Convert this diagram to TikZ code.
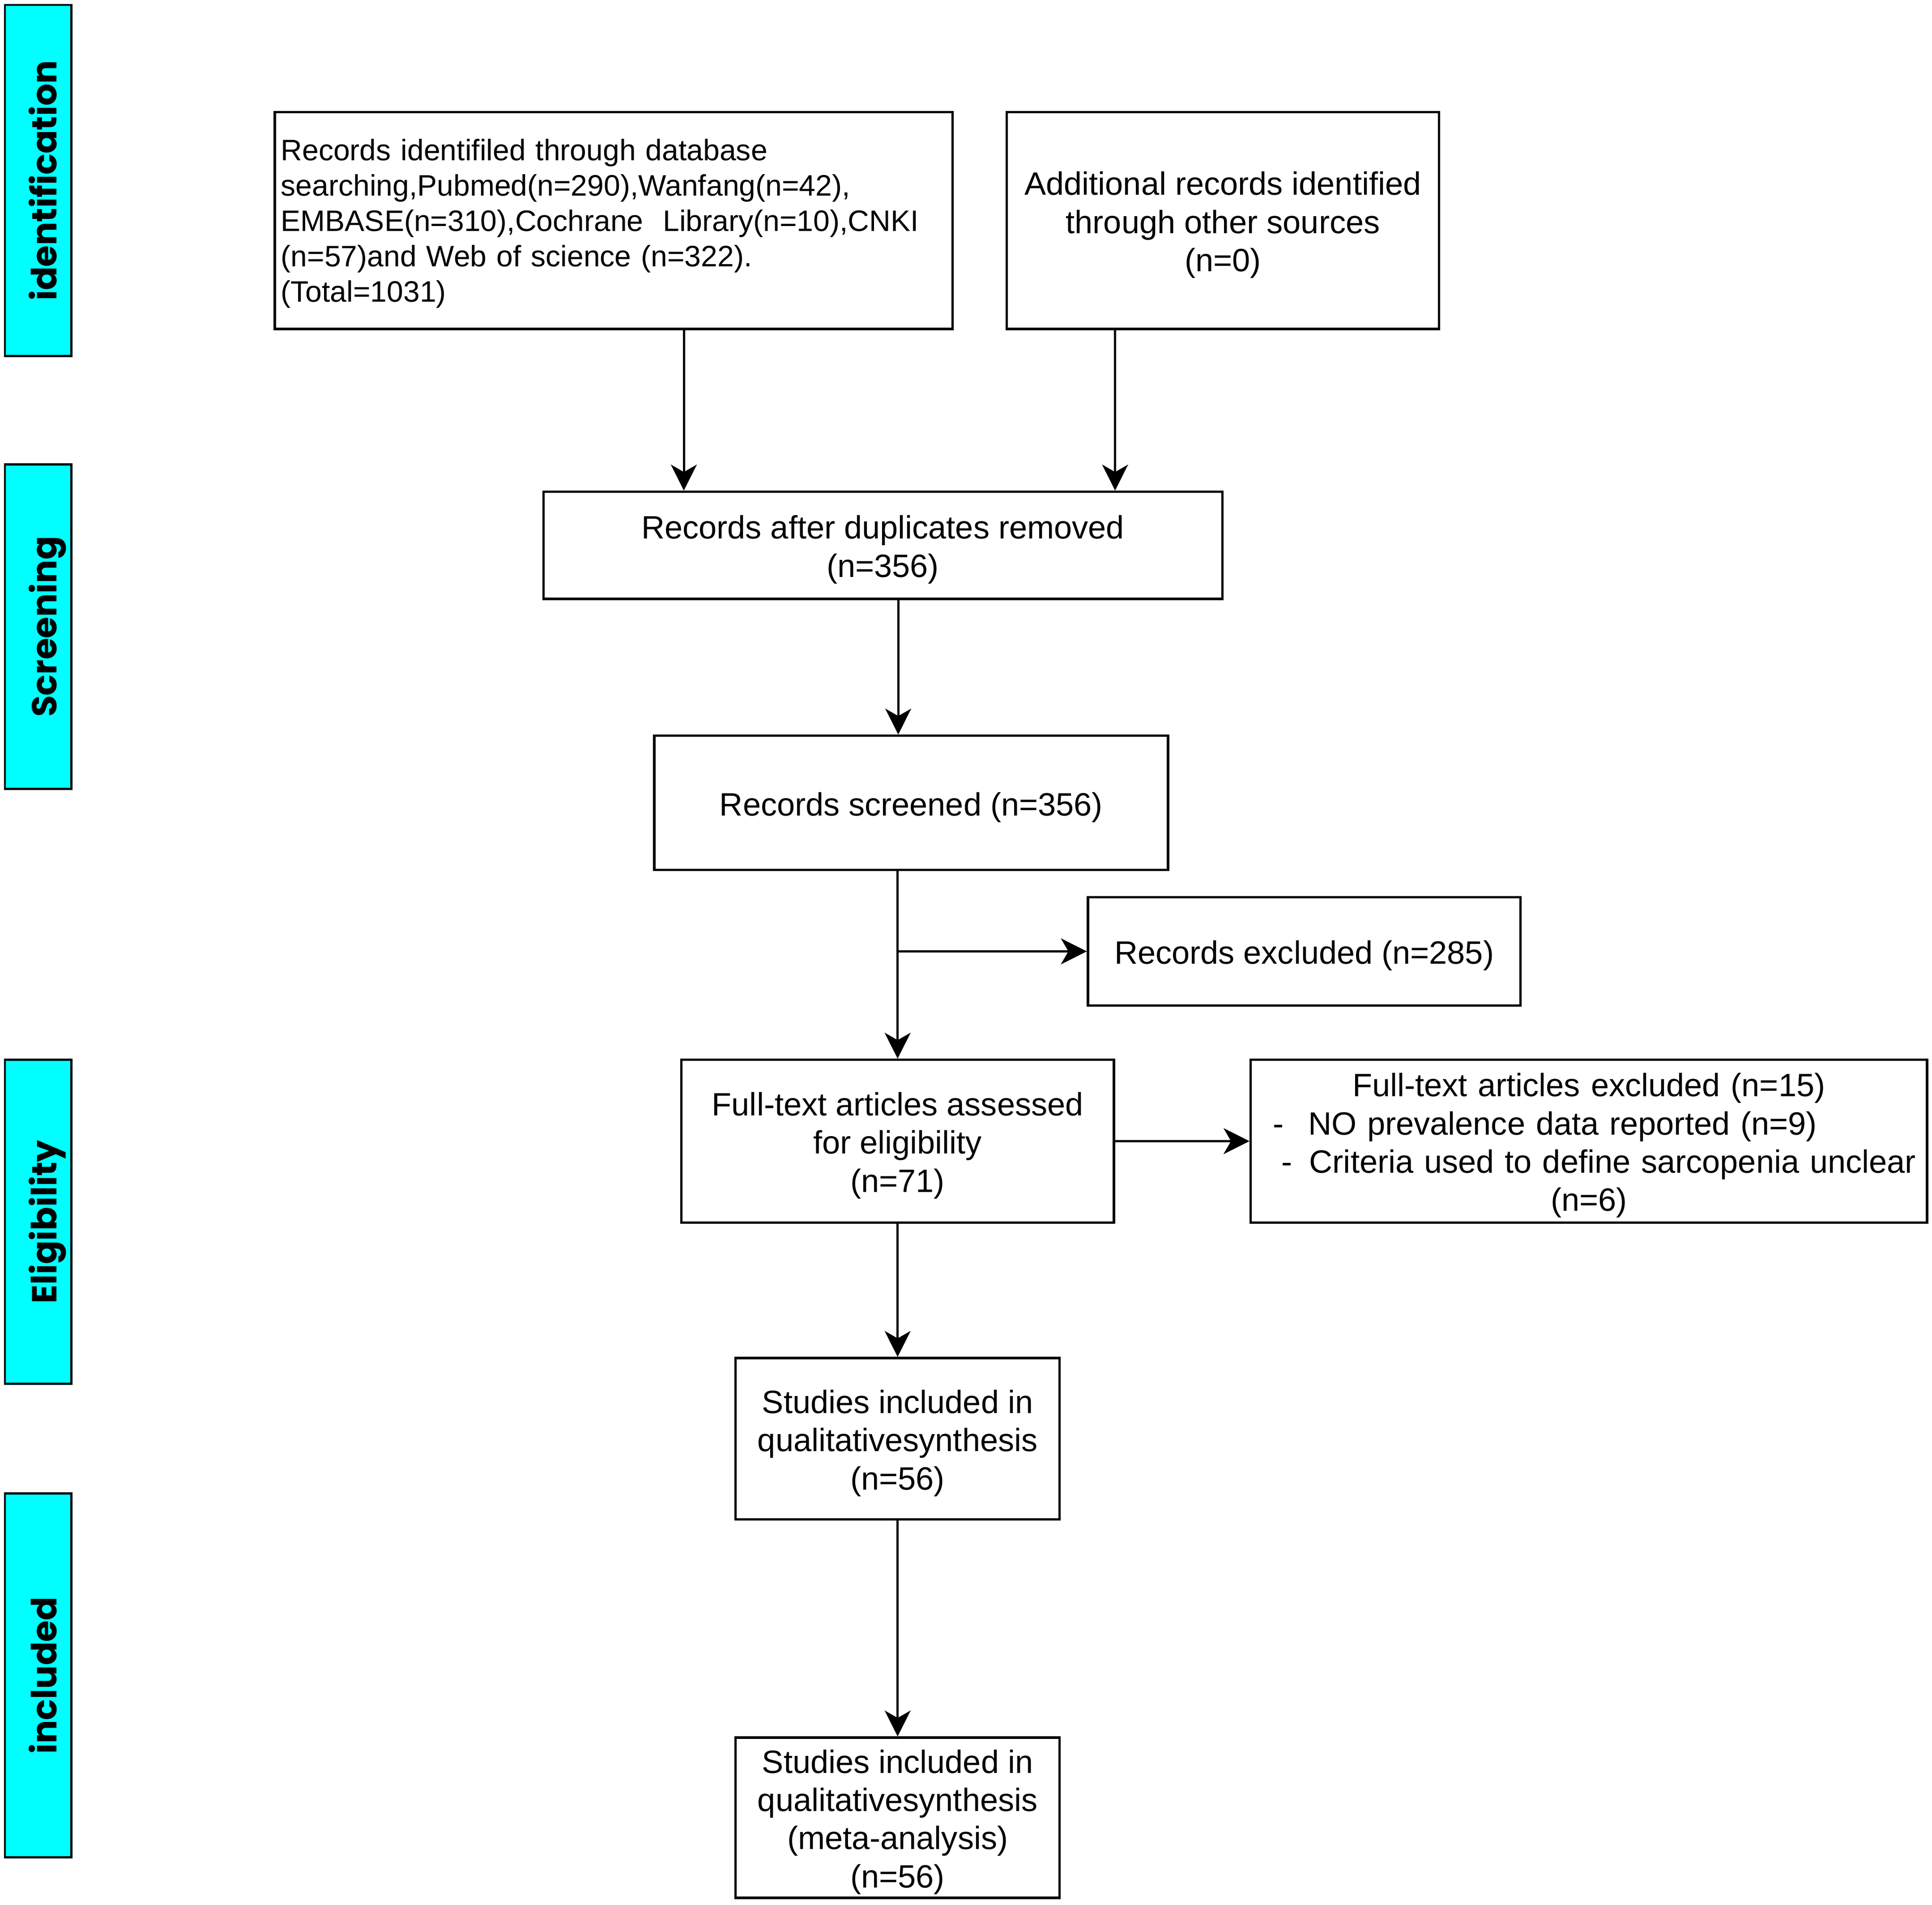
\documentclass[tikz,border=0pt]{standalone}
\usepackage{fontspec}
\setmainfont{Liberation Sans}
\newfontfamily\barfont{Poppins}
\usetikzlibrary{arrows.meta,calc}
\definecolor{barcyan}{HTML}{00FFFF}
\newcommand\tup{\rule{0pt}{13pt}}
\newcommand\tupa{\rule{0pt}{11.2pt}}
\begin{document}
\begin{tikzpicture}[x=0.5pt,y=-0.5pt,
  box/.style={draw=black,line width=0.95pt,fill=white,inner sep=0pt,align=center,
    font=\fontsize{13.1pt}{15.5pt}\selectfont},
  bar/.style={draw=black,line width=0.9pt,fill=barcyan,inner sep=0pt,minimum width=27pt},
  bartext/.style={rotate=90,inner sep=0pt,text height=10.5pt,text depth=0pt,
    font=\barfont\bfseries\fontsize{14.1pt}{16pt}\selectfont},
  arr/.style={-{Stealth[length=10.5pt,width=10.5pt,inset=3pt]},line width=0.9pt}]
\useasboundingbox[fill=white] (0,0) rectangle (1568,1545.5);

% phase bars
\node[bar,minimum height=142.5pt] (b1) at (31,146.5) {};
\node[bar,minimum height=131.5pt] (b2) at (31,508.5) {};
\node[bar,minimum height=131.5pt] (b3) at (31,991.5) {};
\node[bar,minimum height=147.5pt] (b4) at (31,1359.5) {};
\node[bartext] (t1) at ($(b1.center)+(4.5,0)$) {identification};
\node[bartext] (t2) at ($(b2.center)+(4.5,0)$) {Screening};
\node[bartext] (t3) at ($(b3.center)+(4.5,0)$) {Eligibility};
\node[bartext] (t4) at ($(b4.center)+(4.5,0)$) {included};

% boxes
\node[box,minimum width=275pt,minimum height=88pt,align=left,text width=270pt,
  inner xsep=2.5pt,font=\fontsize{12pt}{14.35pt}\selectfont] (A) at (498,179)
  {\tupa Records identifiled through database\\
   searching,Pubmed(n=290),Wanfang(n=42),\\
   EMBASE(n=310),Cochrane\ \ Library(n=10),CNKI\\
   (n=57)and Web of science (n=322).\\
   (Total=1031)};
\node[box,minimum width=175.5pt,minimum height=88pt] (B) at (992.5,179)
  {\tup Additional records identified\\through other sources\\(n=0)};
\node[box,minimum width=275.5pt,minimum height=43.5pt] (C) at (716.5,442.5)
  {\tup Records after duplicates removed\\(n=356)};
\node[box,minimum width=208.5pt,minimum height=54.5pt] (D) at (739.5,651.5)
  {\tup Records screened (n=356)};
\node[box,minimum width=175.5pt,minimum height=44pt] (E) at (1058.5,772)
  {\tup Records excluded (n=285)};
\node[box,minimum width=175.5pt,minimum height=66pt] (F) at (728.5,926)
  {\tup Full-text articles assessed\\for eligibility\\(n=71)};
\node[box,minimum width=274.5pt,minimum height=66pt,align=left,text width=274.5pt] (G) at (1289.5,926)
  {\makebox[\linewidth][c]{\tup Full-text articles excluded (n=15)}\\
   \hspace*{9pt}-\hspace{10pt}NO prevalence data reported (n=9)\\
   \hspace*{12.5pt}-\hspace{7pt}Criteria used to define sarcopenia unclear\\
   \makebox[\linewidth][c]{(n=6)}};
\node[box,minimum width=131.5pt,minimum height=65.5pt] (H) at (728.5,1167.5)
  {\tup Studies included in\\qualitativesynthesis\\(n=56)};
\node[box,minimum width=131.5pt,minimum height=65pt] (I) at (728.5,1475)
  {\tup Studies included in\\qualitativesynthesis\\(meta-analysis)\\(n=56)};

% connectors
\draw[arr] ($(A.south)+(57,0)$) coordinate (a1) -- (a1 |- C.north);
\draw[arr] ($(B.south)+(-87.5,0)$) coordinate (b1s) -- (b1s |- C.north);
\draw[arr] ($(C.south)+(12.5,0)$) coordinate (c1) -- (c1 |- D.north);
\draw[arr] (D.south -| F.north) -- (F.north);
\draw[arr] (E.west -| F.north) -- (E.west);
\draw[arr] (F.east) -- (G.west);
\draw[arr] (F.south) -- (H.north);
\draw[arr] (H.south) -- (I.north);
\end{tikzpicture}
\end{document}
